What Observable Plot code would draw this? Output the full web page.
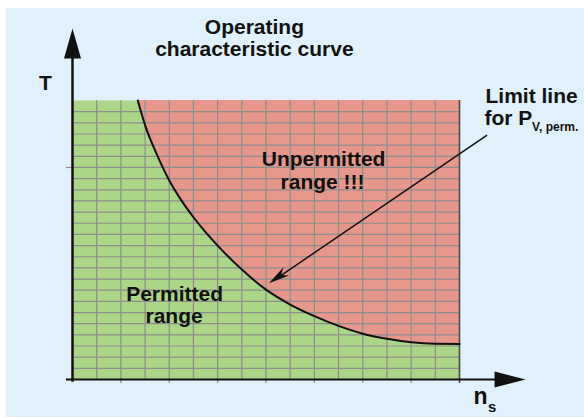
<!DOCTYPE html>
<html>
<head>
<meta charset="utf-8">
<script src="https://cdn.jsdelivr.net/npm/d3@7"></script>
<script src="https://cdn.jsdelivr.net/npm/@observablehq/plot@0.6"></script>
<style>
  html, body { margin: 0; padding: 0; background: #ffffff; }
  #chart svg { position: absolute; left: 6px; top: 8px; }
</style>
</head>
<body>
<div id="chart"></div>
<script>
// Limit line (operating characteristic curve): speed n_s vs torque T, in grid units
const nsValues = [2.70, 3.0, 3.5, 4.0, 4.5, 5.0, 5.5, 6.0, 7.0, 8.0, 9.0, 10.0, 11.0, 12.0, 13.0, 14.0, 15.0, 16.0];
const tValues  = [25.0, 22.79, 20.1, 17.83, 16.05, 14.54, 13.2, 12.0, 9.85, 8.05, 6.72, 5.68, 4.8, 4.10, 3.65, 3.34, 3.20, 3.18];
const xGrid = d3.range(1, 16);
const yGrid = d3.range(1, 25);
const xTicks = [2, 4, 6, 8, 10, 12, 14];
const yTicks = [19];

const curveData = nsValues.map((ns, i) => ({ns, t: tValues[i]}));

const green = "#acd687";
const red = "#e8978b";
const gridColor = "#8d8d8d";
const font = "Liberation Sans, Arial, Helvetica, sans-serif";

const triHead = {
  draw(ctx, l, r) {
    ctx.moveTo(-r, 0);
    ctx.lineTo(0, -l);
    ctx.lineTo(r, 0);
    ctx.closePath();
  }
};
const barbHead = {
  draw(ctx, l, r) {
    ctx.moveTo(0, -l);
    ctx.lineTo(r, 0);
    ctx.lineTo(0, -l * 0.3);
    ctx.lineTo(-r, 0);
    ctx.closePath();
  }
};

const txt = {text: d => d, fontFamily: font, fontWeight: "bold", fill: "#111", lineAnchor: "bottom"};

const chart = Plot.plot({
  width: 578,
  height: 409,
  marginLeft: 66,
  marginRight: 125,
  marginTop: 92,
  marginBottom: 38,
  x: {domain: [0, 16], axis: null},
  y: {domain: [0, 25], axis: null},
  style: {background: "#e0f1fb", fontFamily: font, overflow: "visible"},
  marks: [
    Plot.frame({fill: green, stroke: null}),
    Plot.areaY(curveData, {x: "ns", y1: "t", y2: 25, fill: red, curve: "monotone-x"}),
    Plot.gridX(xGrid, {stroke: gridColor, strokeOpacity: 1, strokeWidth: 1.2}),
    Plot.gridY(yGrid, {stroke: gridColor, strokeOpacity: 1, strokeWidth: 1.2}),
    Plot.axisX(xTicks, {tickSize: 4, tickFormat: () => "", label: null, stroke: gridColor, strokeWidth: 1.2}),
    Plot.axisY(yTicks, {tickSize: 6, tickFormat: () => "", label: null, stroke: gridColor, strokeWidth: 1.2}),
    Plot.ruleX([16], {y1: -0.36, y2: 25, stroke: "#4a4a4a", strokeWidth: 1.6}),
    Plot.line(curveData, {x: "ns", y: "t", stroke: "#111", strokeWidth: 2, curve: "monotone-x"}),
    // axes with arrows
    Plot.ruleY([0], {x1: -0.25, x2: 17.5, stroke: "#111", strokeWidth: 2}),
    Plot.ruleX([0], {y1: -0.25, y2: 28.8, stroke: "#111", strokeWidth: 2.5}),
    Plot.vector([0], {x: 0, y: 31.45, length: 30, r: 8.5, rotate: 0, anchor: "end", shape: triHead, fill: "#111", stroke: "none"}),
    Plot.vector([0], {x: 18.73, y: 0, length: 31, r: 8, rotate: 90, anchor: "end", shape: triHead, fill: "#111", stroke: "none"}),
    // annotation arrow to the limit line
    Plot.link([0], {x1: 17.14, y1: 21.89, x2: 8.4, y2: 9.0, stroke: "#111", strokeWidth: 1.5}),
    Plot.vector([0], {x: 8.12, y: 8.63, length: 21, r: 5, rotate: -124, anchor: "end", shape: barbHead, fill: "#111", stroke: "none"}),
    // texts
    Plot.text(["Operating"], {...txt, x: 7.52, y: 31.0, fontSize: 21, textAnchor: "middle"}),
    Plot.text(["characteristic curve"], {...txt, x: 7.52, y: 29.03, fontSize: 21, textAnchor: "middle"}),
    Plot.text(["T"], {...txt, x: -1.12, y: 25.9, fontSize: 21, textAnchor: "middle"}),
    Plot.text(["n"], {...txt, x: 16.58, y: -2.24, fontSize: 23, textAnchor: "start"}),
    Plot.text(["s"], {...txt, x: 17.18, y: -2.87, fontSize: 15, textAnchor: "start"}),
    Plot.text(["Unpermitted"], {...txt, x: 10.38, y: 19.1, fontSize: 21, textAnchor: "middle"}),
    Plot.text(["range !!!"], {...txt, x: 10.34, y: 17.11, fontSize: 21, textAnchor: "middle"}),
    Plot.text(["Permitted"], {...txt, x: 4.22, y: 6.99, fontSize: 21, textAnchor: "middle"}),
    Plot.text(["range"], {...txt, x: 4.2, y: 5.02, fontSize: 21, textAnchor: "middle"}),
    Plot.text(["Limit line"], {...txt, x: 18.98, y: 24.82, fontSize: 21, textAnchor: "middle"}),
    Plot.text(["for P"], {...txt, x: 17.03, y: 22.76, fontSize: 21, textAnchor: "start"}),
    Plot.text(["V, perm."], {...txt, x: 19.0, y: 22.31, fontSize: 12, textAnchor: "start"})
  ]
});
document.getElementById("chart").appendChild(chart);
</script>
</body>
</html>
